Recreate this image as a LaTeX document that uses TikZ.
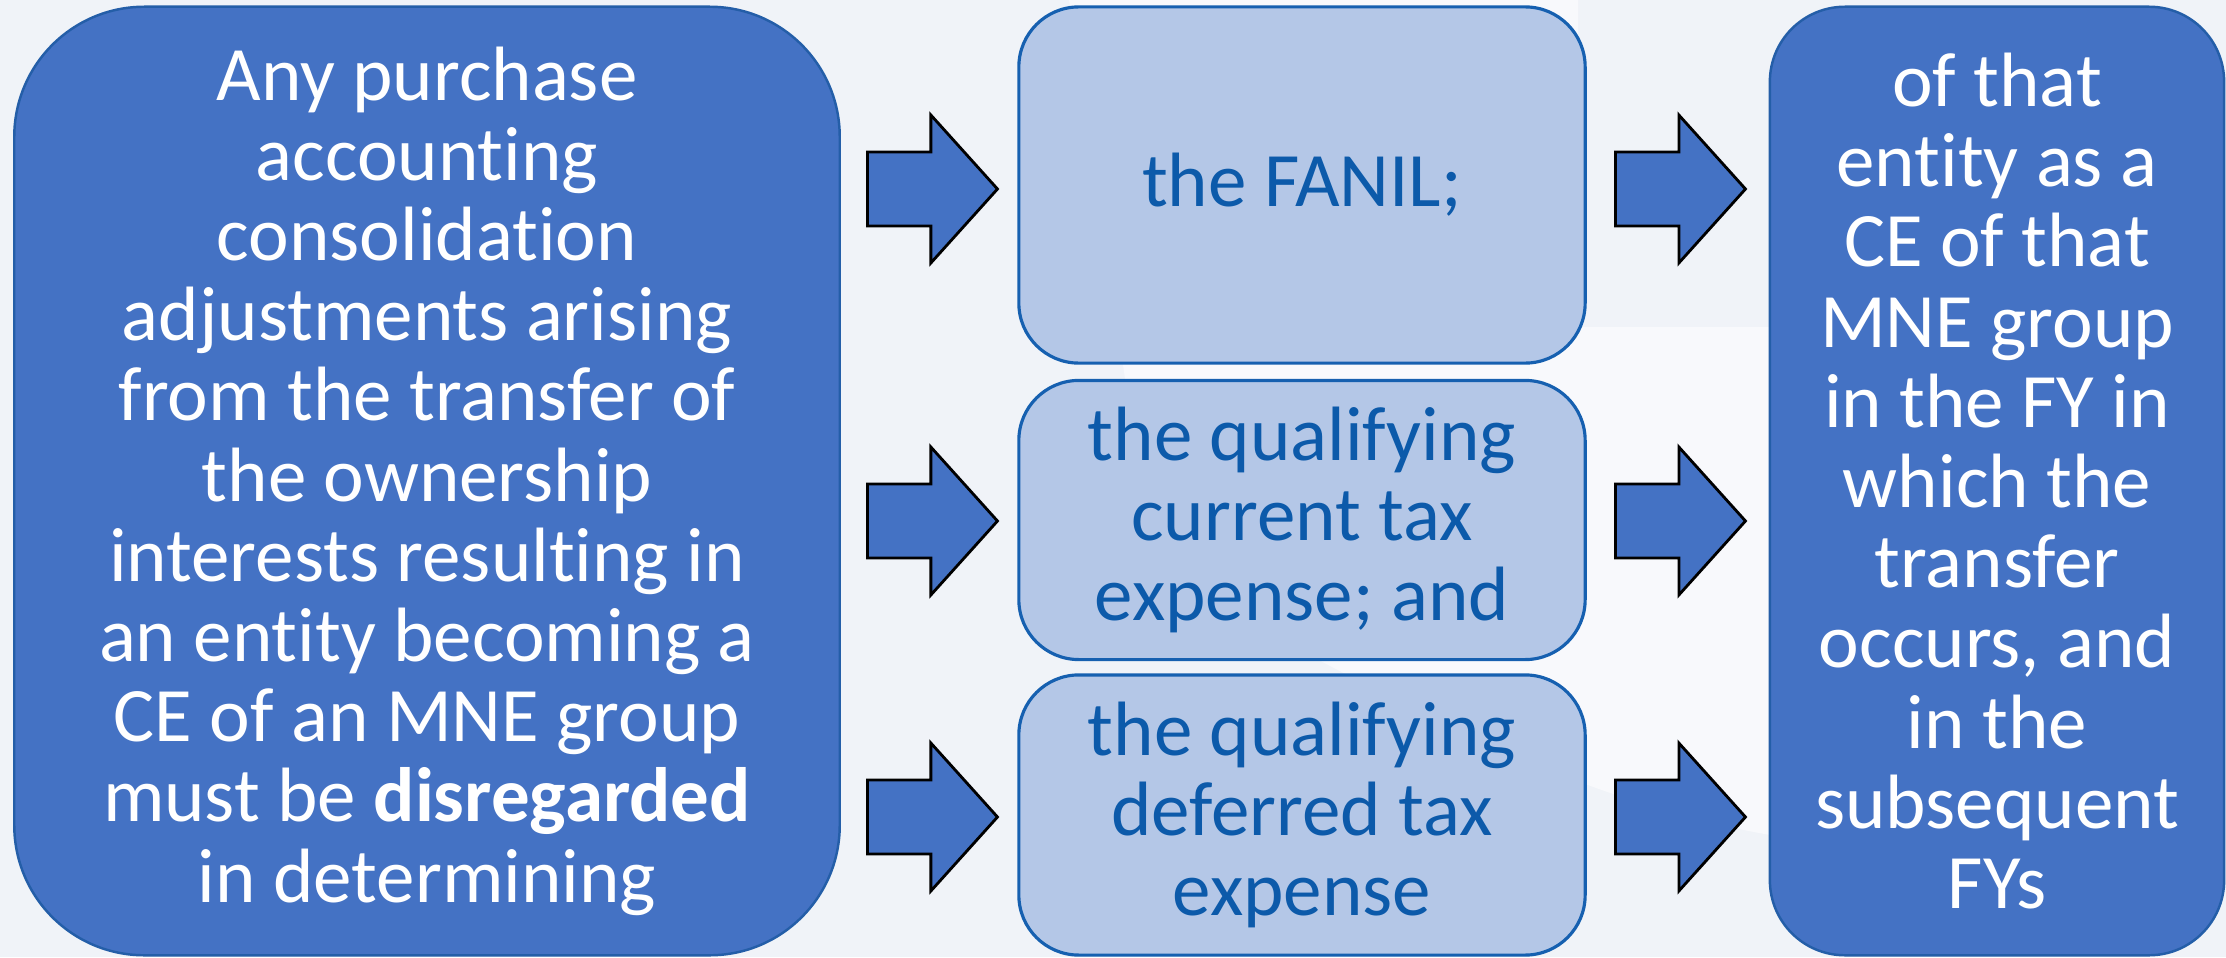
\documentclass[tikz,border=0pt]{standalone}
\usepackage{fontspec}
\setmainfont[Ligatures={NoCommon,NoContextual}]{Carlito}
\usetikzlibrary{shapes.arrows}
\definecolor{pagebg}{RGB}{240,243,248}
\definecolor{pagelight}{RGB}{248,249,252}
\definecolor{boxblue}{RGB}{68,114,196}
\definecolor{boxedge}{RGB}{36,94,168}
\definecolor{midfill}{RGB}{180,199,231}
\definecolor{midedge}{RGB}{22,96,176}
\definecolor{midtext}{RGB}{12,90,170}
\begin{document}
\begin{tikzpicture}[
        x=0.01cm, y=-0.01cm,
        every node/.style={font=\fontsize{21.9}{22.8}\selectfont, align=center, inner sep=0pt},
        bigbox/.style={rectangle, rounded corners=1.3cm, fill=boxblue, draw=boxedge, line width=0.7pt, text=white, minimum height=9.48cm},
        midbox/.style={rectangle, rounded corners=0.6cm, fill=midfill, draw=midedge, line width=0.9pt, text=midtext, minimum width=5.66cm},
        blockarrow/.style={single arrow, single arrow head extend=0.37cm, single arrow tip angle=96, minimum height=1.3cm, inner xsep=0pt, inner ysep=0.355cm, fill=boxblue, draw=black, line width=0.8pt, anchor=tail}
    ]
    \fill[pagebg] (0,0) rectangle (2226,957);
    \useasboundingbox (0,0) rectangle (2226,957);
    \fill[pagelight] (1069,0) -- (1578,0) -- (1578,327) -- (1770,327) -- (1770,835)
        .. controls (1600,805) and (1450,730) .. (1300,650) -- (1140,480) -- cycle;
    \node [bigbox, minimum width=8.25cm] (rule) at (427,481)
        {Any purchase\\accounting\\consolidation\\adjustments arising\\from the transfer of\\the ownership\\interests resulting in\\an entity becoming a\\CE of an MNE group\\must be \textbf{disregarded}\\in determining};
    \node [midbox, minimum height=3.56cm] (fanil) at (1302,185) {the FANIL;};
    \node [midbox, minimum height=2.79cm] (current) at (1302,520) {the qualifying\\current tax\\expense; and};
    \node [midbox, minimum height=2.80cm] (deferred) at (1302,815) {the qualifying\\deferred tax\\expense};
    \node [bigbox, rounded corners=0.75cm, minimum width=4.54cm] (entity) at (1997,481)
        {of that\\entity as a\\CE of that\\MNE group\\in the FY in\\which the\\transfer\\occurs, and\\in the\\subsequent\\FYs};
    \foreach \y/\n in {189/1,521/2,817/3} {
        \node [blockarrow] (in\n) at (866,\y) {};
        \node [blockarrow] (out\n) at (1614,\y) {};
    }
\end{tikzpicture}
\end{document}
